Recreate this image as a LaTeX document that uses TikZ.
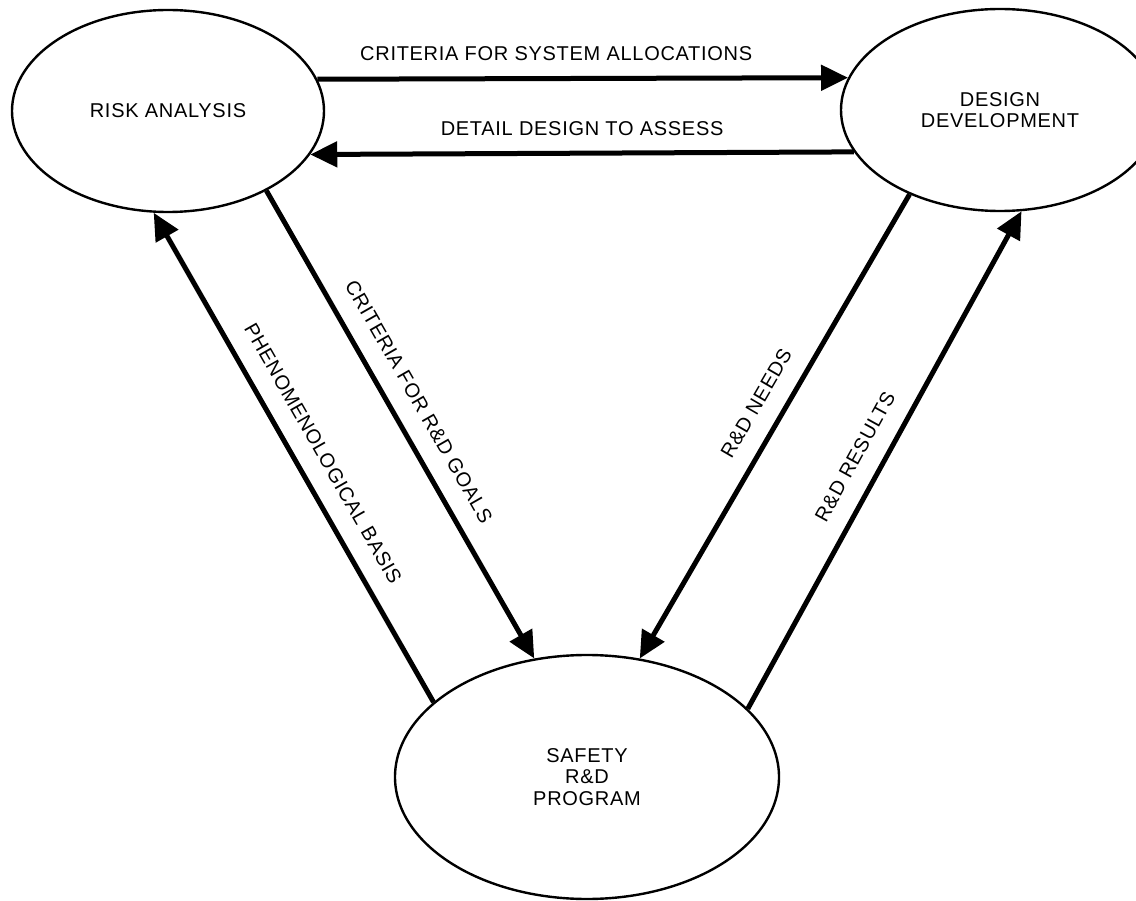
\documentclass[tikz,border=0pt]{standalone}
\usepackage{fontspec}
\setmainfont{Liberation Sans}[LetterSpace=3.5]
\usetikzlibrary{arrows.meta,shapes.geometric}
\begin{document}
\begin{tikzpicture}[x=1pt,y=-1pt,
  blob/.style={draw,ellipse,line width=2.4pt,inner sep=0pt,align=center,font=\fontsize{20}{21.5}\selectfont},
  flow/.style={line width=5pt,-{Triangle[length=27pt,width=25pt]}},
  lab/.style={font=\fontsize{20}{21.5}\selectfont,inner sep=0pt}]
\useasboundingbox (0,0) rectangle (1136,901);
\node[blob,minimum width=312pt,minimum height=202pt] (risk) at (168,111) {RISK ANALYSIS};
\node[blob,minimum width=318pt,minimum height=202pt] (design) at (1000,110) {DESIGN\\DEVELOPMENT};
\node[blob,minimum width=384pt,minimum height=244pt] (safety) at (587,777) {SAFETY\\R\&D\\PROGRAM};

\draw[flow] (risk.12.3) -- (design.168.4) node[lab,above=15pt,pos=0.45] {CRITERIA FOR SYSTEM ALLOCATIONS};
\draw[flow] (design.196.2) -- (risk.343.9) node[lab,above=15pt,midway] {DETAIL DESIGN TO ASSESS};
\foreach \from/\fa/\to/\ta/\lab in {risk/321.4/safety/114.3/{CRITERIA FOR R\&D GOALS},
    safety/154.3/risk/262.9/{PHENOMENOLOGICAL BASIS},
    design/223.1/safety/66.5/{R\&D NEEDS},
    safety/23.9/design/282.1/{R\&D RESULTS}} {
  \draw[flow] (\from.\fa) -- (\to.\ta) node[lab,sloped,above=18pt,pos=0.48] {\lab};
}
\end{tikzpicture}
\end{document}
